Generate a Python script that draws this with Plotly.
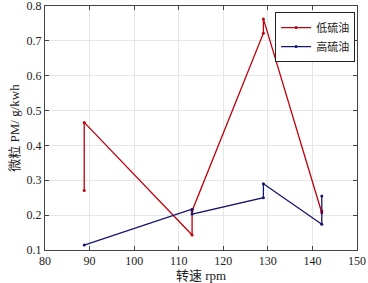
import plotly.graph_objects as go

low_x = [88.8, 88.8, 113, 113, 129, 129, 142.1, 142.1]
low_y = [0.271, 0.466, 0.143, 0.212, 0.722, 0.763, 0.207, 0.212]
high_x = [88.8, 113, 113, 129, 129, 142.1, 142.1]
high_y = [0.114, 0.217, 0.203, 0.250, 0.290, 0.174, 0.255]

x_ticks = [80, 90, 100, 110, 120, 130, 140, 150]
y_ticks = [0.1, 0.2, 0.3, 0.4, 0.5, 0.6, 0.7, 0.8]

font_family = "Liberation Serif, Noto Sans CJK SC, serif"

fig = go.Figure()
fig.add_trace(go.Scatter(x=low_x, y=low_y, mode="lines+markers", name="低硫油",
                         line=dict(color="#c0000c", width=1.3),
                         marker=dict(size=3, color="#c0000c")))
fig.add_trace(go.Scatter(x=high_x, y=high_y, mode="lines+markers", name="高硫油",
                         line=dict(color="#16166e", width=1.3),
                         marker=dict(size=3, color="#16166e")))

axis_common = dict(showline=True, linecolor="#444", linewidth=1, mirror="ticks",
                   ticks="inside", ticklen=4, tickcolor="#444", automargin=False,
                   ticklabeloverflow="allow",
                   showgrid=True, gridcolor="#e6e6e6", gridwidth=1, zeroline=False,
                   tickfont=dict(family=font_family, size=12, color="#222"))

fig.update_layout(
    width=368, height=283,
    margin=dict(l=45, r=11, t=6, b=33),
    paper_bgcolor="white", plot_bgcolor="white",
    font=dict(family=font_family, size=12, color="#222"),
    showlegend=True,
    legend=dict(x=0.994, y=0.975, xanchor="right", yanchor="top",
                bordercolor="#222", borderwidth=1, bgcolor="white",
                font=dict(family=font_family, size=11, color="#222"),
                tracegroupgap=0, itemwidth=30),
)
fig.update_xaxes(range=[80, 150], tickvals=x_ticks, ticktext=[str(v) for v in x_ticks],
                 title=dict(text="转速 rpm", standoff=0,
                            font=dict(family=font_family, size=13, color="#222")),
                 **axis_common)
fig.update_yaxes(range=[0.1, 0.8], tickvals=y_ticks, ticktext=[f"{v:.1f}" for v in y_ticks],
                 title=dict(text="微粒 PM/ g/kwh", standoff=4,
                            font=dict(family=font_family, size=13, color="#222")),
                 **axis_common)

fig.write_html("out.html", config={"displayModeBar": False},
               post_script="document.body.style.margin='0';document.body.style.padding='0';")
